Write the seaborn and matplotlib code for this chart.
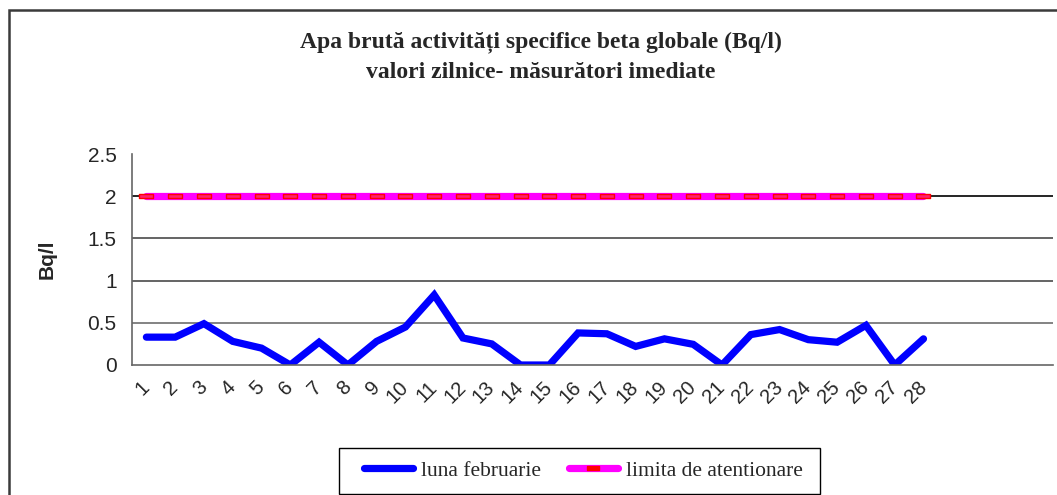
import numpy as np
import pandas as pd
import matplotlib
matplotlib.use("Agg")
import matplotlib.pyplot as plt
import seaborn as sns
from matplotlib.path import Path
from matplotlib.lines import Line2D
from matplotlib.patches import Rectangle

# ---- data ----
days = [str(d) for d in range(1, 29)]
extra_slots = ["", "", "", ""]
luna_februarie = [0.33, 0.33, 0.49, 0.28, 0.20, 0.0, 0.27, 0.0, 0.28, 0.45,
                  0.83, 0.32, 0.25, 0.0, 0.0, 0.38, 0.37, 0.22, 0.31, 0.245,
                  0.0, 0.36, 0.42, 0.30, 0.27, 0.47, 0.0, 0.31]
limita = [2.0] * 28
title_lines = ["Apa brută activități specifice beta globale (Bq/l)",
               "valori zilnice- măsurători imediate"]
y_label = "Bq/l"
series_names = ["luna februarie", "limita de atentionare"]

W, H = 1057, 495
sns.set_style("white")
plt.rcParams["font.family"] = ["Liberation Sans", "DejaVu Sans"]

fig = plt.figure(figsize=(W / 100, H / 100), dpi=100)
ax = fig.add_axes([132 / W, 1 - 365 / H, (1053 - 132) / W, (365 - 154) / H])

df = pd.DataFrame({"x": np.arange(len(days)), "luna": luna_februarie, "lim": limita})

rect = Path([(-1, -0.3), (1, -0.3), (1, 0.3), (-1, 0.3), (-1, -0.3)],
            [Path.MOVETO, Path.LINETO, Path.LINETO, Path.LINETO, Path.CLOSEPOLY])

# gridlines
for yv, c in [(0.5, "#6e6e6e"), (1.0, "#4a4a4a"), (1.5, "#4a4a4a"), (2.0, "#000000")]:
    ax.axhline(yv, color=c, lw=1.2, zorder=1)

sns.lineplot(data=df, x="x", y="lim", ax=ax, color="#FF00FF", lw=5.2,
             solid_capstyle="round", zorder=3, legend=False)
ax.plot(df["x"], df["lim"], ls="none", marker=rect, markersize=10,
        markerfacecolor="#FF2070", markeredgecolor="#FF0000", markeredgewidth=1.0, zorder=4)
sns.lineplot(data=df, x="x", y="luna", ax=ax, color="#0000FF", lw=5.2,
             solid_capstyle="round", solid_joinstyle="miter", zorder=5, legend=False)

nslots = len(days) + len(extra_slots)
ax.set_xlim(-0.5, nslots - 0.5)
ax.set_ylim(0, 2.5)
ax.set_yticks([0, 0.5, 1, 1.5, 2, 2.5])
ax.set_yticklabels(["0", "0.5", "1", "1.5", "2", "2.5"], fontsize=15)
ax.set_xticks(np.arange(nslots))
ax.set_xticklabels(days + extra_slots, rotation=45, ha="right", va="center",
                   rotation_mode="anchor", fontsize=14.5)
ax.set_xticks(np.arange(nslots + 1) - 0.5, minor=True)
ax.tick_params(axis="x", which="major", length=0, pad=14)
ax.tick_params(axis="x", which="minor", length=6, direction="out", color="#555555", width=1.2)
ax.tick_params(axis="y", length=6, direction="out", color="#555555", width=1.2, pad=5)
ax.set_xlabel("")
ax.set_ylabel(y_label, fontsize=15, fontweight="bold", labelpad=22)
for s in ["top", "right"]:
    ax.spines[s].set_visible(False)
for s in ["left", "bottom"]:
    ax.spines[s].set_color("#666666")
    ax.spines[s].set_linewidth(1.2)
ax.spines["bottom"].set_zorder(6)

# title
fig.text(541 / W, 1 - 42 / H, title_lines[0], ha="center", va="center",
         fontsize=17, fontweight="bold", family=["Liberation Serif", "DejaVu Serif"])
fig.text(541 / W, 1 - 72 / H, title_lines[1], ha="center", va="center",
         fontsize=17, fontweight="bold", family=["Liberation Serif", "DejaVu Serif"])

# legend (frame drawn separately)
h1 = Line2D([], [], color="#0000FF", lw=5.2, solid_capstyle="round")
h2 = Line2D([], [], color="#FF00FF", lw=5.2, solid_capstyle="round", marker=rect,
            markersize=8, markerfacecolor="#FF0000", markeredgecolor="#FF0000")
leg = fig.legend([h1, h2], series_names, loc="center", bbox_to_anchor=(583 / W, 1 - 470.5 / H),
                 ncol=2, frameon=False,
                 prop={"family": ["Liberation Serif"], "size": 15.5}, handlelength=2.3,
                 handletextpad=0.35, columnspacing=1.3, borderpad=0.6, numpoints=1)
fig.patches.append(Rectangle((338.5 / W, 1 - 494 / H), (820 - 338.5) / W, (494 - 447.5) / H,
                             transform=fig.transFigure, fill=False, edgecolor="#000000", lw=1.0))

# outer border
fig.patches.append(Rectangle((8.5 / W, -0.2), 1.5, 1.2 - 10 / H, transform=fig.transFigure,
                             fill=False, edgecolor="#3a3a3a", lw=1.8))

fig.savefig("out.png", dpi=100)
